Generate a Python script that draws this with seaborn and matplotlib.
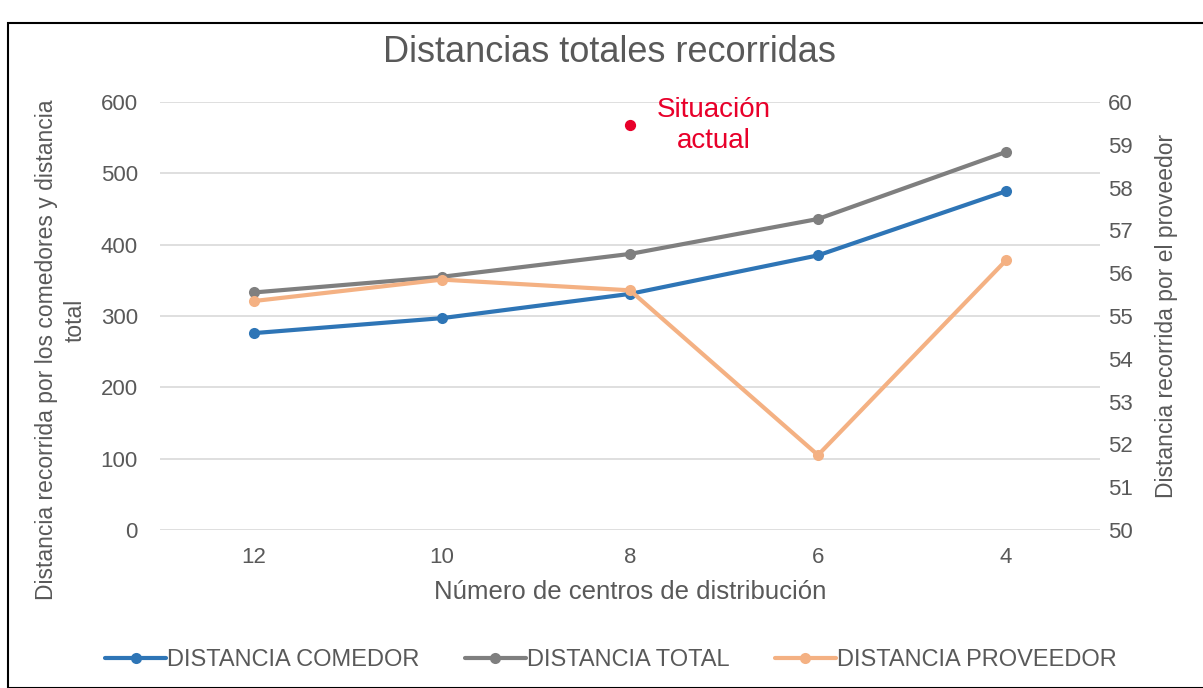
import matplotlib
matplotlib.use("Agg")
import matplotlib.pyplot as plt
import seaborn as sns
import pandas as pd
from matplotlib.patches import Rectangle

centros = ["12", "10", "8", "6", "4"]
dist_comedor = [276, 297, 331, 385, 475]
dist_total = [333, 355, 387, 436, 530]
dist_proveedor = [55.35, 55.85, 55.6, 51.75, 56.3]
situacion_actual_x = "8"
situacion_actual_y = 568

left_ticks = [0, 100, 200, 300, 400, 500, 600]
right_ticks = list(range(50, 61))

c_blue = "#2E75B6"
c_gray = "#7F7F7F"
c_orange = "#F4B183"
c_red = "#E8002A"
c_text = "#595959"

sns.set_theme(style="white")
plt.rcParams["font.family"] = ["Liberation Sans", "DejaVu Sans"]

df = pd.DataFrame({
    "centros": centros,
    "comedor": dist_comedor,
    "total": dist_total,
    "proveedor": dist_proveedor,
})

fig = plt.figure(figsize=(12.03, 6.88), dpi=100)
ax = fig.add_axes([160 / 1203, 1 - 530 / 688, 940 / 1203, 428 / 688])
ax2 = ax.twinx()

line_kw = dict(sort=False, linewidth=3, marker="o", markersize=8,
               markeredgewidth=0, legend=False)
sns.lineplot(data=df, x="centros", y="comedor", ax=ax, color=c_blue,
             label="DISTANCIA COMEDOR", **line_kw)
sns.lineplot(data=df, x="centros", y="total", ax=ax, color=c_gray,
             label="DISTANCIA TOTAL", **line_kw)
sns.lineplot(data=df, x="centros", y="proveedor", ax=ax2, color=c_orange,
             label="DISTANCIA PROVEEDOR", **line_kw)

# current-situation marker with its note
ax.scatter([situacion_actual_x], [situacion_actual_y], color=c_red, s=50, zorder=5)
ax.annotate("Situación\nactual", xy=(situacion_actual_x, situacion_actual_y),
            xytext=(84, -1), textcoords="offset pixels", color=c_red,
            fontsize=20, ha="center", va="center", linespacing=1.25)

ax.set_xlim(-0.5, len(centros) - 0.5)
ax.set_ylim(0, 600)
ax2.set_ylim(50, 60)
ax.set_yticks(left_ticks)
ax2.set_yticks(right_ticks)
ax.yaxis.grid(True, color="#D9D9D9", linewidth=1.2)
ax.xaxis.grid(False)
ax2.grid(False)
ax.set_axisbelow(True)
for a in (ax, ax2):
    for s in a.spines.values():
        s.set_visible(False)
    a.tick_params(axis="both", length=0, colors=c_text, labelsize=16)
ax.tick_params(axis="y", pad=16)
ax.tick_params(axis="x", pad=12)
ax2.tick_params(axis="y", pad=6)

ax.set_xlabel("Número de centros de distribución", fontsize=18.5, color=c_text, labelpad=9)
ax.set_ylabel("")
ax2.set_ylabel("Distancia recorrida por el proveedor", fontsize=16.5, color=c_text,
               labelpad=16)

fig.text(47 / 1203, 1 - 350 / 688, "Distancia recorrida por los comedores y distancia",
         rotation=90, fontsize=16.5, color=c_text, ha="center", va="center")
fig.text(75 / 1203, 1 - 320 / 688, "total",
         rotation=90, fontsize=16.5, color=c_text, ha="center", va="center")

fig.text(609 / 1203, 1 - 52 / 688, "Distancias totales recorridas", fontsize=26,
         color=c_text, ha="center", va="center")

h1, l1 = ax.get_legend_handles_labels()
h2, l2 = ax2.get_legend_handles_labels()
fig.legend(h1 + h2, l1 + l2, loc="center", bbox_to_anchor=(611 / 1203, 1 - 660 / 688),
           ncol=3, frameon=False, fontsize=17, handlelength=2.6, columnspacing=1.9,
           labelcolor=c_text, handletextpad=0.05)

fig.patches.append(Rectangle((8 / 1203, 0), 1.2, 1 - 23 / 688, transform=fig.transFigure,
                             fill=False, edgecolor="black", linewidth=1.5))

fig.savefig("out.png", dpi=100)
